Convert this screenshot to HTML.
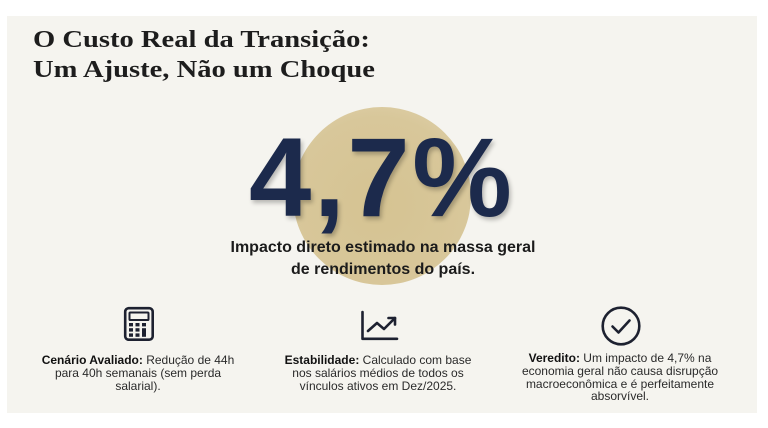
<!DOCTYPE html>
<html><head><meta charset="utf-8">
<style>
html,body{margin:0;padding:0;background:#fff;}
body{width:768px;height:428px;position:relative;overflow:hidden;font-family:"Liberation Sans",sans-serif;}
.slide{position:absolute;left:7px;top:16px;width:750px;height:397px;background:#f5f4ef;}
.t{position:absolute;left:33px;font-family:"Liberation Serif",serif;font-weight:bold;font-size:24px;line-height:30px;color:#1d1d1d;white-space:nowrap;transform:scaleX(1.19);transform-origin:0 0;}
.glow{position:absolute;left:293px;top:107px;width:178px;height:178px;border-radius:50%;
background:radial-gradient(circle at 48% 55%, #d5c392 0%, #d8c79a 65%, #ddcea6 82%, #e7ddc3 92%, rgba(243,240,230,0) 100%);}
.big{position:absolute;left:249px;top:122px;font-weight:bold;font-size:112px;line-height:112px;color:#1c2a4c;white-space:nowrap;letter-spacing:2.5px;text-shadow:2px 3px 4px rgba(0,0,0,0.25);}
.sub{position:absolute;left:173px;width:420px;top:237px;text-align:center;font-weight:bold;font-size:16px;line-height:22px;color:#1b1b1b;}
.col{position:absolute;text-align:center;font-size:12px;line-height:13px;color:#2a2a2a;white-space:nowrap;}
.col b{color:#111;}
svg{position:absolute;}
</style></head><body>
<div class="slide"></div>
<div class="t" style="top:25px;">O Custo Real da Transição:</div>
<div class="t" style="top:55px;">Um Ajuste, Não um Choque</div>
<div class="glow"></div>
<div class="big">4,7%</div>
<div class="sub">Impacto direto estimado na massa geral<br>de rendimentos do país.</div>

<svg width="40" height="40" viewBox="0 0 40 40" style="left:119px;top:303px;">
<rect x="6.2" y="5.2" width="27.5" height="31.5" rx="3.5" fill="none" stroke="#1d2130" stroke-width="2.6"/>
<rect x="10.5" y="9.5" width="19" height="7.5" rx="0.8" fill="none" stroke="#1d2130" stroke-width="2"/>
<g fill="#1d2130">
<rect x="10" y="20" width="4" height="3.4"/><rect x="16.5" y="20" width="4" height="3.4"/><rect x="23" y="20" width="4" height="3.4"/>
<rect x="10" y="25.2" width="4" height="3.4"/><rect x="16.5" y="25.2" width="4" height="3.4"/><rect x="23" y="25.2" width="4" height="8.6"/>
<rect x="10" y="30.4" width="4" height="3.4"/><rect x="16.5" y="30.4" width="4" height="3.4"/>
</g>
</svg>

<svg width="44" height="36" viewBox="0 0 44 36" style="left:358px;top:308px;">
<path d="M4.5 4 V30.8 H39" fill="none" stroke="#1d2130" stroke-width="2.6" stroke-linecap="round" stroke-linejoin="round"/>
<path d="M10 23 L19 15 L26 21 L37 10" fill="none" stroke="#1d2130" stroke-width="2.6" stroke-linecap="round" stroke-linejoin="round"/>
<path d="M30.5 10 H37 V16.5" fill="none" stroke="#1d2130" stroke-width="2.6" stroke-linecap="round" stroke-linejoin="round"/>
</svg>

<svg width="44" height="44" viewBox="0 0 44 44" style="left:598.5px;top:304px;">
<circle cx="22" cy="22" r="18.3" fill="none" stroke="#1d2130" stroke-width="2.6"/>
<path d="M13.5 22.5 L19.5 28.5 L30.5 16.5" fill="none" stroke="#1d2130" stroke-width="2.6" stroke-linecap="round" stroke-linejoin="round"/>
</svg>

<div class="col" style="left:38px;width:200px;top:354px;"><b>Cenário Avaliado:</b> Redução de 44h<br>para 40h semanais (sem perda<br>salarial).</div>
<div class="col" style="left:268px;width:220px;top:354px;"><b>Estabilidade:</b> Calculado com base<br>nos salários médios de todos os<br>vínculos ativos em Dez/2025.</div>
<div class="col" style="left:505px;width:230px;top:352px;line-height:12.8px;"><b>Veredito:</b> Um impacto de 4,7% na<br>economia geral não causa disrupção<br>macroeconômica e é perfeitamente<br>absorvível.</div>
</body></html>
